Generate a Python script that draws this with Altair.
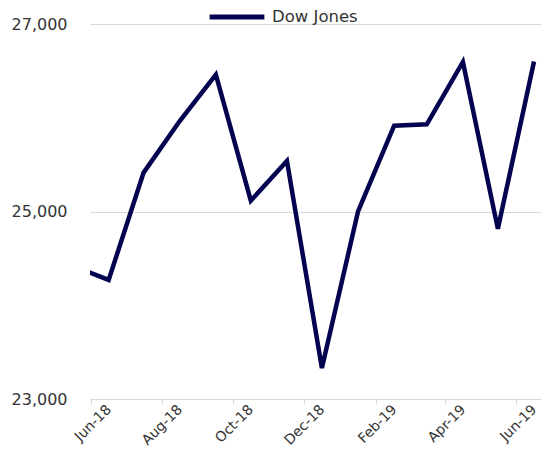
import altair as alt
import pandas as pd

months = ["2018-05-01", "2018-06-01", "2018-07-01", "2018-08-01", "2018-09-01",
          "2018-10-01", "2018-11-01", "2018-12-01", "2019-01-01", "2019-02-01",
          "2019-03-01", "2019-04-01", "2019-05-01", "2019-06-01"]
dow = [24420, 24270, 25415, 25965, 26460, 25115, 25540, 23330, 25000, 25915,
       25930, 26595, 24815, 26600]
series = ["Dow Jones"] * len(months)
tick_months = ["2018-06-01", "2018-08-01", "2018-10-01", "2018-12-01",
               "2019-02-01", "2019-04-01", "2019-06-01"]
y_ticks = [23000, 25000, 27000]

df = pd.DataFrame({"month": months, "value": dow, "series": series})

FONT = "DejaVu Sans"
TXT = "#333333"
GRID = "#d9d9d9"

chart = alt.Chart(df).mark_line(strokeWidth=4.5, clip=True).encode(
    x=alt.X("month:T",
            scale=alt.Scale(type="utc", domain=["2018-05-16", "2019-06-07"]),
            axis=alt.Axis(values=tick_months, format="%b-%y", title=None,
                          labelAngle=-45, labelAlign="right", labelBaseline="middle",
                          labelPadding=3, labelFontSize=14, labelFont=FONT,
                          labelColor=TXT, tickOffset=-17.8, labelOffset=17.8,
                          tickColor=GRID, tickSize=5, domainColor=GRID,
                          grid=False, labelOverlap=False, labelFlush=False)),
    y=alt.Y("value:Q",
            scale=alt.Scale(domain=[23000, 27000], nice=False, zero=False),
            axis=alt.Axis(values=y_ticks, format=",d", title=None, ticks=False,
                          domain=False, labelPadding=23, labelFontSize=16,
                          labelFont=FONT, labelColor=TXT, gridColor=GRID,
                          gridWidth=1.2)),
    color=alt.Color("series:N", scale=alt.Scale(range=["#03034f"]),
                    legend=alt.Legend(title=None, orient="none", legendX=117,
                                      legendY=-37, direction="horizontal",
                                      symbolType="stroke", symbolSize=3000,
                                      symbolStrokeWidth=5, labelFontSize=16.5,
                                      labelFont=FONT, labelColor=TXT,
                                      padding=0, labelOffset=5)),
).properties(
    width=451, height=375,
    autosize=alt.AutoSizeParams(type="none"),
    padding={"left": 82, "top": 16, "right": 0, "bottom": 50},
).configure_view(stroke=None)

chart.save("out.html", embed_options={"renderer": "svg", "actions": False})
